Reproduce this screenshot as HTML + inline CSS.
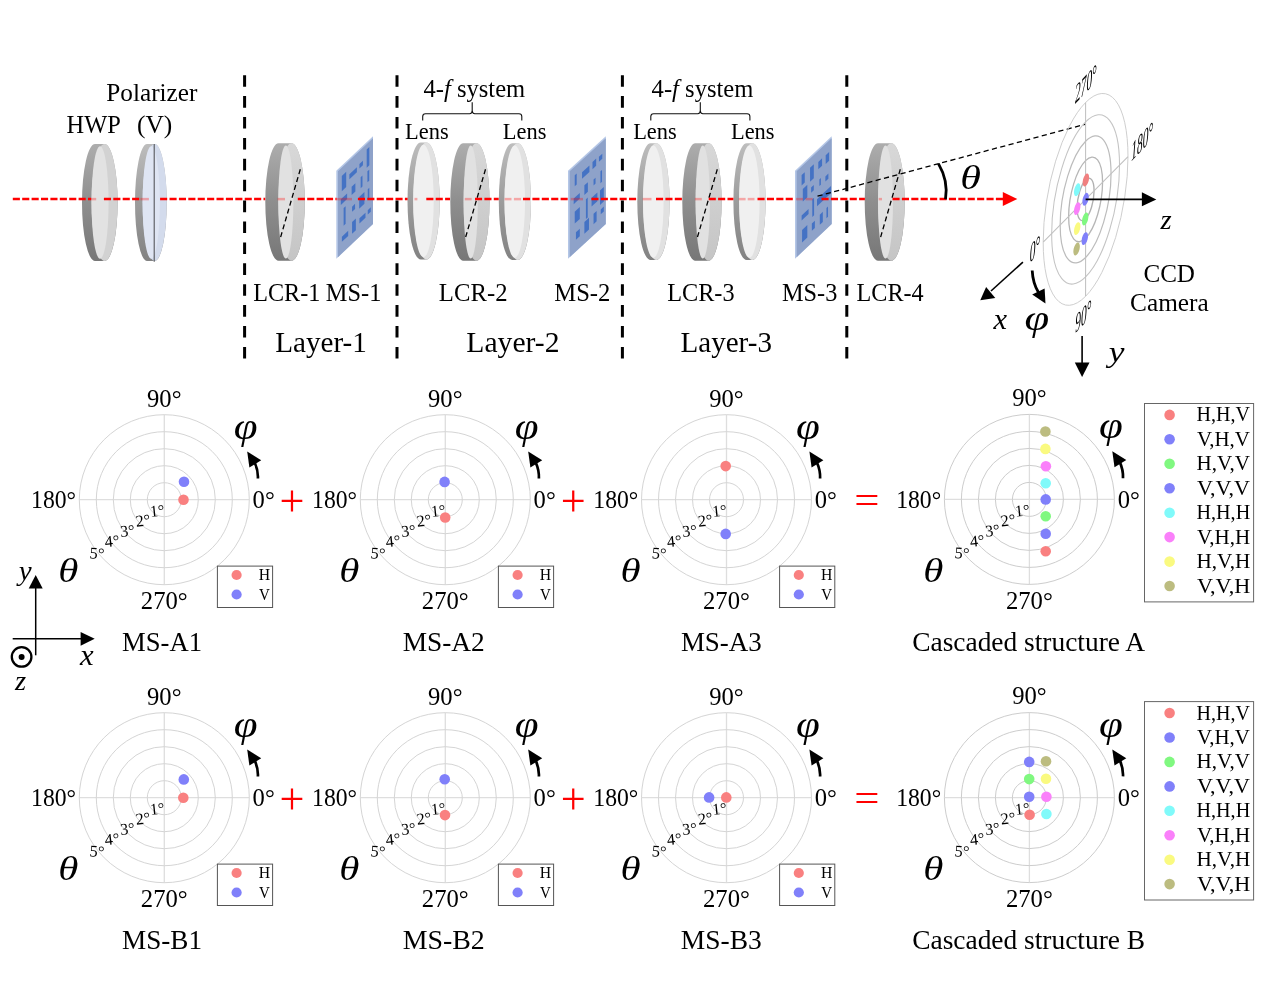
<!DOCTYPE html>
<html lang="en"><head><meta charset="utf-8"><title>Cascaded metasurface figure</title>
<style>html,body{margin:0;padding:0;background:#fff}svg{display:block}</style></head>
<body>
<svg width="1268" height="986" viewBox="0 0 1268 986" font-family='"Liberation Serif", "DejaVu Serif", serif'>
<defs>
<linearGradient id="gRimD" x1="0" y1="0" x2="0" y2="1"><stop offset="0" stop-color="#adadad"/><stop offset="0.5" stop-color="#8e8e8e"/><stop offset="1" stop-color="#777"/></linearGradient>
<linearGradient id="gRimL" x1="0" y1="0" x2="0" y2="1"><stop offset="0" stop-color="#bdbdbd"/><stop offset="0.5" stop-color="#9c9c9c"/><stop offset="1" stop-color="#828282"/></linearGradient>
<linearGradient id="gFace" x1="0" y1="0" x2="0" y2="1"><stop offset="0" stop-color="#d8d8d8"/><stop offset="1" stop-color="#c5c5c5"/></linearGradient>
</defs>
<rect width="1268" height="986" fill="#fff"/>
<path d="M95.05,144.00 L104.55,144.00 A13.05,58.50 0 0 1 104.55,261.00 L95.05,261.00 A13.05,58.50 0 0 1 95.05,144.00Z" fill="url(#gRimD)"/>
<ellipse cx="104.55" cy="202.50" rx="13.05" ry="58.50" fill="#d2d2d2"/>
<ellipse cx="100.04" cy="202.50" rx="8.54" ry="56.30" fill="#e2e2e2"/>
<path d="M147.05,144.00 L154.65,144.00 A12.05,58.50 0 0 1 154.65,261.00 L147.05,261.00 A12.05,58.50 0 0 1 147.05,144.00Z" fill="url(#gRimL)"/>
<ellipse cx="154.65" cy="202.50" rx="12.05" ry="58.50" fill="#d3dbec"/>
<ellipse cx="151.23" cy="202.50" rx="8.63" ry="56.30" fill="#dfe5f3"/>
<path d="M154.2,144 V261.8" stroke="#222" stroke-width="0.8"/>
<path d="M278.55,143.20 L291.55,143.20 A13.25,58.80 0 0 1 291.55,260.80 L278.55,260.80 A13.25,58.80 0 0 1 278.55,143.20Z" fill="url(#gRimD)"/>
<ellipse cx="291.55" cy="202.00" rx="13.25" ry="58.80" fill="url(#gFace)"/>
<ellipse cx="285.83" cy="202.00" rx="7.53" ry="56.60" fill="#e1e1e1"/>
<g transform="matrix(0.3670,-0.3460,0,0.8790,336.30,170.80)">
<rect x="0" y="0" width="100" height="100" fill="#b4c6e6"/>
<rect x="4.5" y="2.4" width="95.5" height="97.6" fill="#8ea2c9"/>
<rect x="15.0" y="11.7" width="12.0" height="17.5" fill="#4472c4"/>
<rect x="35.7" y="18.0" width="20.3" height="5.6" fill="#4472c4"/>
<rect x="63.0" y="17.2" width="9.5" height="5.0" fill="#4472c4"/>
<rect x="82.8" y="8.3" width="7.2" height="20.8" fill="#4472c4"/>
<rect x="66.4" y="33.5" width="4.9" height="12.5" fill="#4472c4"/>
<rect x="84.8" y="34.0" width="4.9" height="12.5" fill="#4472c4"/>
<rect x="41.8" y="34.7" width="10.2" height="9.2" fill="#4472c4"/>
<rect x="12.3" y="37.3" width="17.2" height="6.4" fill="#4472c4"/>
<rect x="62.3" y="54.4" width="14.3" height="13.3" fill="#4472c4"/>
<rect x="85.7" y="54.7" width="4.3" height="11.3" fill="#4472c4"/>
<rect x="20.0" y="50.3" width="5.4" height="20.0" fill="#4472c4"/>
<rect x="43.0" y="57.7" width="8.2" height="5.8" fill="#4472c4"/>
<rect x="85.7" y="78.5" width="8.2" height="5.0" fill="#4472c4"/>
<rect x="63.1" y="78.9" width="16.4" height="5.8" fill="#4472c4"/>
<rect x="43.0" y="75.2" width="10.3" height="13.3" fill="#4472c4"/>
<rect x="15.2" y="81.0" width="17.2" height="5.8" fill="#4472c4"/>
</g>
<path d="M420.75,142.60 L426.45,142.60 A13.25,58.40 0 0 1 426.45,259.40 L420.75,259.40 A13.25,58.40 0 0 1 420.75,142.60Z" fill="url(#gRimL)"/>
<ellipse cx="426.45" cy="201.00" rx="13.25" ry="58.40" fill="#e1e1e1"/>
<ellipse cx="423.46" cy="201.00" rx="10.26" ry="56.20" fill="#f0f0f0"/>
<path d="M463.25,143.20 L476.55,143.20 A12.95,58.80 0 0 1 476.55,260.80 L463.25,260.80 A12.95,58.80 0 0 1 463.25,143.20Z" fill="url(#gRimD)"/>
<ellipse cx="476.55" cy="202.00" rx="12.95" ry="58.80" fill="url(#gFace)"/>
<ellipse cx="470.70" cy="202.00" rx="7.10" ry="56.60" fill="#e1e1e1"/>
<path d="M512.05,143.20 L517.75,143.20 A13.25,58.35 0 0 1 517.75,259.90 L512.05,259.90 A13.25,58.35 0 0 1 512.05,143.20Z" fill="url(#gRimL)"/>
<ellipse cx="517.75" cy="201.55" rx="13.25" ry="58.35" fill="#e1e1e1"/>
<ellipse cx="514.76" cy="201.55" rx="10.26" ry="56.15" fill="#f0f0f0"/>
<g transform="matrix(0.3780,-0.3460,0,0.8790,568.00,170.80)">
<rect x="0" y="0" width="100" height="100" fill="#b4c6e6"/>
<rect x="4.5" y="2.4" width="95.5" height="97.6" fill="#8ea2c9"/>
<rect x="17.8" y="12.0" width="5.2" height="12.5" fill="#4472c4"/>
<rect x="37.2" y="16.2" width="19.5" height="7.5" fill="#4472c4"/>
<rect x="64.8" y="15.4" width="9.7" height="8.3" fill="#4472c4"/>
<rect x="81.8" y="16.2" width="8.9" height="5.8" fill="#4472c4"/>
<rect x="85.8" y="34.4" width="4.2" height="13.4" fill="#4472c4"/>
<rect x="67.6" y="36.5" width="5.3" height="6.7" fill="#4472c4"/>
<rect x="43.3" y="33.6" width="9.3" height="10.9" fill="#4472c4"/>
<rect x="15.0" y="37.5" width="16.2" height="6.4" fill="#4472c4"/>
<rect x="84.6" y="55.6" width="10.1" height="16.7" fill="#4472c4"/>
<rect x="62.3" y="55.2" width="15.4" height="10.0" fill="#4472c4"/>
<rect x="47.4" y="51.0" width="4.8" height="22.6" fill="#4472c4"/>
<rect x="17.8" y="53.6" width="13.4" height="13.4" fill="#4472c4"/>
<rect x="86.6" y="78.0" width="8.1" height="5.6" fill="#4472c4"/>
<rect x="67.6" y="75.6" width="8.1" height="11.7" fill="#4472c4"/>
<rect x="43.3" y="75.3" width="12.2" height="13.3" fill="#4472c4"/>
<rect x="21.0" y="78.2" width="10.2" height="8.4" fill="#4472c4"/>
</g>
<path d="M650.60,143.20 L656.30,143.20 A13.30,58.40 0 0 1 656.30,260.00 L650.60,260.00 A13.30,58.40 0 0 1 650.60,143.20Z" fill="url(#gRimL)"/>
<ellipse cx="656.30" cy="201.60" rx="13.30" ry="58.40" fill="#e1e1e1"/>
<ellipse cx="653.31" cy="201.60" rx="10.31" ry="56.20" fill="#f0f0f0"/>
<path d="M695.30,143.20 L708.60,143.20 A13.00,58.80 0 0 1 708.60,260.80 L695.30,260.80 A13.00,58.80 0 0 1 695.30,143.20Z" fill="url(#gRimD)"/>
<ellipse cx="708.60" cy="202.00" rx="13.00" ry="58.80" fill="url(#gFace)"/>
<ellipse cx="702.75" cy="202.00" rx="7.15" ry="56.60" fill="#e1e1e1"/>
<path d="M746.65,143.20 L752.35,143.20 A13.25,58.40 0 0 1 752.35,260.00 L746.65,260.00 A13.25,58.40 0 0 1 746.65,143.20Z" fill="url(#gRimL)"/>
<ellipse cx="752.35" cy="201.60" rx="13.25" ry="58.40" fill="#e1e1e1"/>
<ellipse cx="749.36" cy="201.60" rx="10.26" ry="56.20" fill="#f0f0f0"/>
<g transform="matrix(0.3670,-0.3460,0,0.8790,795.00,170.80)">
<rect x="0" y="0" width="100" height="100" fill="#b4c6e6"/>
<rect x="4.5" y="2.4" width="95.5" height="97.6" fill="#8ea2c9"/>
<rect x="18.0" y="12.0" width="8.6" height="11.7" fill="#4472c4"/>
<rect x="41.0" y="12.7" width="10.2" height="15.8" fill="#4472c4"/>
<rect x="63.5" y="14.9" width="10.3" height="8.3" fill="#4472c4"/>
<rect x="83.6" y="15.2" width="9.4" height="10.0" fill="#4472c4"/>
<rect x="82.8" y="39.0" width="8.2" height="5.9" fill="#4472c4"/>
<rect x="66.4" y="36.0" width="4.1" height="7.5" fill="#4472c4"/>
<rect x="43.9" y="36.4" width="7.3" height="5.8" fill="#4472c4"/>
<rect x="21.3" y="29.2" width="12.3" height="14.1" fill="#4472c4"/>
<rect x="60.0" y="56.0" width="38.0" height="8.0" fill="#4472c4"/>
<rect x="47.1" y="51.0" width="4.9" height="20.0" fill="#4472c4"/>
<rect x="18.0" y="57.9" width="18.9" height="5.8" fill="#4472c4"/>
<rect x="85.7" y="76.0" width="4.3" height="11.7" fill="#4472c4"/>
<rect x="67.6" y="76.5" width="8.2" height="11.5" fill="#4472c4"/>
<rect x="45.9" y="78.0" width="8.2" height="8.3" fill="#4472c4"/>
<rect x="19.3" y="75.0" width="14.3" height="14.2" fill="#4472c4"/>
</g>
<path d="M878.05,143.20 L891.35,143.20 A13.35,58.80 0 0 1 891.35,260.80 L878.05,260.80 A13.35,58.80 0 0 1 878.05,143.20Z" fill="url(#gRimD)"/>
<ellipse cx="891.35" cy="202.00" rx="13.35" ry="58.80" fill="url(#gFace)"/>
<ellipse cx="885.50" cy="202.00" rx="7.50" ry="56.60" fill="#e1e1e1"/>
<path d="M300.3,169.3 L280.2,238.6" stroke="#000" stroke-width="1.3" stroke-dasharray="5 3.2" fill="none"/>
<path d="M485.5,169.3 L465.2,238.6" stroke="#000" stroke-width="1.3" stroke-dasharray="5 3.2" fill="none"/>
<path d="M717.3,169.3 L697.0,238.6" stroke="#000" stroke-width="1.3" stroke-dasharray="5 3.2" fill="none"/>
<path d="M900.3,169.3 L880.2,238.6" stroke="#000" stroke-width="1.3" stroke-dasharray="5 3.2" fill="none"/>
<path d="M12.8,199.1H91.1" stroke="#f00" stroke-width="2.5" stroke-dasharray="7.1 2.3" fill="none"/>
<path d="M91.1,199.1H96.2" stroke="#f00" stroke-opacity="0.3" stroke-width="2.5" fill="none"/>
<path d="M103.9,199.1H140.4" stroke="#f00" stroke-width="2.5" stroke-dasharray="7.1 2.3" fill="none"/>
<path d="M140.4,199.1H148.9" stroke="#f00" stroke-opacity="0.3" stroke-width="2.5" fill="none"/>
<path d="M160.1,199.1H265.2" stroke="#f00" stroke-width="2.5" stroke-dasharray="7.1 2.3" fill="none"/>
<path d="M277.5,199.1H285.0" stroke="#f00" stroke-opacity="0.3" stroke-width="2.5" fill="none"/>
<path d="M297.8,199.1H336.6" stroke="#f00" stroke-width="2.5" stroke-dasharray="7.1 2.3" fill="none"/>
<path d="M336.6,199.1H352.0" stroke="#f00" stroke-opacity="0.3" stroke-width="2.5" fill="none"/>
<path d="M357.9,199.1H407.6" stroke="#f00" stroke-width="2.5" stroke-dasharray="7.1 2.3" fill="none"/>
<path d="M414.5,199.1H417.4" stroke="#f00" stroke-opacity="0.3" stroke-width="2.5" fill="none"/>
<path d="M426.3,199.1H450.0" stroke="#f00" stroke-width="2.5" stroke-dasharray="7.1 2.3" fill="none"/>
<path d="M464.8,199.1H471.7" stroke="#f00" stroke-opacity="0.3" stroke-width="2.5" fill="none"/>
<path d="M475.0,199.1H498.7" stroke="#f00" stroke-width="2.5" stroke-dasharray="7.1 2.3" fill="none"/>
<path d="M504.6,199.1H511.5" stroke="#f00" stroke-opacity="0.3" stroke-width="2.5" fill="none"/>
<path d="M513.9,199.1H521.0" stroke="#f00" stroke-opacity="0.3" stroke-width="2.5" fill="none"/>
<path d="M523.0,199.1H568.1" stroke="#f00" stroke-width="2.5" stroke-dasharray="7.1 2.3" fill="none"/>
<path d="M570.7,199.1H583.0" stroke="#f00" stroke-opacity="0.3" stroke-width="2.5" fill="none"/>
<path d="M591.4,199.1H637.1" stroke="#f00" stroke-width="2.5" stroke-dasharray="7.1 2.3" fill="none"/>
<path d="M642.7,199.1H651.5" stroke="#f00" stroke-opacity="0.3" stroke-width="2.5" fill="none"/>
<path d="M656.0,199.1H682.1" stroke="#f00" stroke-width="2.5" stroke-dasharray="7.1 2.3" fill="none"/>
<path d="M694.9,199.1H701.8" stroke="#f00" stroke-opacity="0.3" stroke-width="2.5" fill="none"/>
<path d="M708.7,199.1H733.4" stroke="#f00" stroke-width="2.5" stroke-dasharray="7.1 2.3" fill="none"/>
<path d="M738.7,199.1H745.6" stroke="#f00" stroke-opacity="0.3" stroke-width="2.5" fill="none"/>
<path d="M747.7,199.1H754.5" stroke="#f00" stroke-opacity="0.3" stroke-width="2.5" fill="none"/>
<path d="M757.5,199.1H794.9" stroke="#f00" stroke-width="2.5" stroke-dasharray="7.1 2.3" fill="none"/>
<path d="M796.0,199.1H803.0" stroke="#f00" stroke-opacity="0.3" stroke-width="2.5" fill="none"/>
<path d="M805.5,199.1H812.7" stroke="#f00" stroke-opacity="0.3" stroke-width="2.5" fill="none"/>
<path d="M821.5,199.1H864.9" stroke="#f00" stroke-width="2.5" stroke-dasharray="7.1 2.3" fill="none"/>
<path d="M878.7,199.1H882.0" stroke="#f00" stroke-opacity="0.3" stroke-width="2.5" fill="none"/>
<path d="M892.5,199.1H1004.0" stroke="#f00" stroke-width="2.5" stroke-dasharray="7.1 2.3" fill="none"/>
<path d="M1002.8,192.1 L1017.3,199.1 L1002.8,206.1Z" fill="#f00"/>
<path d="M244.6,75.2V360" stroke="#000" stroke-width="3" stroke-dasharray="11.6 9.3" fill="none"/>
<path d="M397.0,75.2V360" stroke="#000" stroke-width="3" stroke-dasharray="11.6 9.3" fill="none"/>
<path d="M622.4,75.2V360" stroke="#000" stroke-width="3" stroke-dasharray="11.6 9.3" fill="none"/>
<path d="M846.8,75.2V360" stroke="#000" stroke-width="3" stroke-dasharray="11.6 9.3" fill="none"/>
<text transform="translate(106.24,101.00) scale(0.9987,1)" font-size="25.30" fill="#000">Polarizer</text>
<text transform="translate(66.57,133.00) scale(0.9633,1)" font-size="25.30" fill="#000">HWP</text>
<text transform="translate(136.95,133.00) scale(1.0064,1)" font-size="25.30" fill="#000">(V)</text>
<text transform="translate(253.18,301.00) scale(0.9551,1)" font-size="25.30" fill="#000">LCR-1</text>
<text transform="translate(325.87,301.00) scale(0.9620,1)" font-size="25.30" fill="#000">MS-1</text>
<text transform="translate(438.86,301.00) scale(0.9768,1)" font-size="25.30" fill="#000">LCR-2</text>
<text transform="translate(554.26,301.00) scale(0.9742,1)" font-size="25.30" fill="#000">MS-2</text>
<text transform="translate(667.17,301.00) scale(0.9597,1)" font-size="25.30" fill="#000">LCR-3</text>
<text transform="translate(781.97,301.00) scale(0.9604,1)" font-size="25.30" fill="#000">MS-3</text>
<text transform="translate(856.47,301.00) scale(0.9567,1)" font-size="25.30" fill="#000">LCR-4</text>
<text transform="translate(275.13,351.90) scale(0.9853,1)" font-size="29.60" fill="#000">Layer-1</text>
<text transform="translate(466.31,351.90) scale(1.0014,1)" font-size="29.60" fill="#000">Layer-2</text>
<text transform="translate(680.53,351.90) scale(0.9822,1)" font-size="29.60" fill="#000">Layer-3</text>
<text transform="translate(423.51,96.75) scale(0.9832,1)" font-size="25.00" fill="#000">4-<tspan font-style="italic">f</tspan> system</text>
<text transform="translate(405.03,138.80) scale(0.9675,1)" font-size="23.20" fill="#000">Lens</text>
<text transform="translate(502.83,138.80) scale(0.9675,1)" font-size="23.20" fill="#000">Lens</text>
<path d="M422.7,120.5 V116.6 Q422.7,113.8 425.5,113.8 H469.6 Q472.2,113.8 472.2,110.6 V102.2 V110.6 Q472.2,113.8 474.8,113.8 H519.0 Q521.8,113.8 521.8,116.6 V120.5" fill="none" stroke="#111" stroke-width="1.1"/>
<text transform="translate(651.61,96.75) scale(0.9832,1)" font-size="25.00" fill="#000">4-<tspan font-style="italic">f</tspan> system</text>
<text transform="translate(633.13,138.80) scale(0.9675,1)" font-size="23.20" fill="#000">Lens</text>
<text transform="translate(730.93,138.80) scale(0.9675,1)" font-size="23.20" fill="#000">Lens</text>
<path d="M650.8,120.5 V116.6 Q650.8,113.8 653.6,113.8 H697.7 Q700.3,113.8 700.3,110.6 V102.2 V110.6 Q700.3,113.8 702.9,113.8 H747.1 Q749.9,113.8 749.9,116.6 V120.5" fill="none" stroke="#111" stroke-width="1.1"/>
<path d="M817.5,196.2 L1085.5,124.2" stroke="#000" stroke-width="1.3" stroke-dasharray="5.2 3.4" fill="none"/>
<path d="M938.4,163.6 Q948.6,181 945.5,199.2" stroke="#000" stroke-width="2.8" fill="none"/>
<text transform="translate(960.29,188.67) scale(1.2679,1)" font-size="33.24" fill="#000" font-style="italic">θ</text>
<g transform="matrix(-8.48,8.56,0.0,19.38,1085.6,199.4)" fill="none">
<circle cx="0" cy="0" r="1" stroke="#b0b0b0" stroke-width="1.35" vector-effect="non-scaling-stroke"/>
<circle cx="0" cy="0" r="2" stroke="#b6b6b6" stroke-width="1.3" vector-effect="non-scaling-stroke"/>
<circle cx="0" cy="0" r="3" stroke="#bcbcbc" stroke-width="1.2" vector-effect="non-scaling-stroke"/>
<circle cx="0" cy="0" r="4" stroke="#c4c4c4" stroke-width="1.05" vector-effect="non-scaling-stroke"/>
<circle cx="0" cy="0" r="5" stroke="#cbcbcb" stroke-width="0.95" vector-effect="non-scaling-stroke"/>
<path d="M-5,0H5M0,-5V5" stroke="#c0c0c0" stroke-width="1.05" vector-effect="non-scaling-stroke"/>
</g>
<ellipse cx="1085.9" cy="180.0" rx="2.9" ry="6.6" transform="rotate(14 1085.9 180.0)" fill="#f08080"/>
<ellipse cx="1077.2" cy="189.7" rx="2.9" ry="6.6" transform="rotate(14 1077.2 189.7)" fill="#80fafa"/>
<ellipse cx="1085.6" cy="199.3" rx="2.9" ry="6.6" transform="rotate(14 1085.6 199.3)" fill="#8080fa"/>
<ellipse cx="1077.2" cy="208.6" rx="2.9" ry="6.6" transform="rotate(14 1077.2 208.6)" fill="#fa80fa"/>
<ellipse cx="1085.2" cy="219.0" rx="2.9" ry="6.6" transform="rotate(14 1085.2 219.0)" fill="#80f880"/>
<ellipse cx="1077.2" cy="228.6" rx="2.9" ry="6.6" transform="rotate(14 1077.2 228.6)" fill="#fafa80"/>
<ellipse cx="1084.8" cy="238.6" rx="2.9" ry="6.6" transform="rotate(14 1084.8 238.6)" fill="#8080fa"/>
<ellipse cx="1076.6" cy="249.0" rx="2.9" ry="6.6" transform="rotate(14 1076.6 249.0)" fill="#bcbc80"/>
<path d="M1085.6,199.4H1143" stroke="#000" stroke-width="1.6"/><path d="M1141.9,192.3 L1156.3,199.4 L1141.9,206.3Z" fill="#000"/>
<path d="M1022.9,262.1 L991,291" stroke="#000" stroke-width="1.6"/><path d="M980.3,300.3 L986.1,287.0 L995.3,297.9Z" fill="#000"/>
<path d="M1082.1,336.1 V363.5" stroke="#000" stroke-width="1.6"/><path d="M1074.8,362.6 H1089.5 L1082.1,376.9Z" fill="#000"/>
<path d="M1032.2,270.5 Q1032.8,283 1038.5,292.5" stroke="#000" stroke-width="2.8" fill="none"/>
<path d="M1045.5,303.4 L1032.2,294.5 L1044.6,288.6Z" fill="#000"/>
<text transform="translate(1160.59,229.40) scale(1.0390,1)" font-size="27.50" fill="#000" font-style="italic">z</text>
<text transform="translate(993.56,329.00) scale(1.0682,1)" font-size="28.50" fill="#000" font-style="italic">x</text>
<text transform="translate(1108.72,362.10) scale(1.2446,1)" font-size="28.50" fill="#000" font-style="italic">y</text>
<text transform="translate(1024.46,329.57) scale(1.2586,1)" font-size="35.47" fill="#000" font-style="italic">φ</text>
<text transform="translate(1143.40,281.50) scale(1.0204,1)" font-size="24.60" fill="#000">CCD</text>
<text transform="translate(1130.09,310.70) scale(1.0286,1)" font-size="24.60" fill="#000">Camera</text>
<text transform="matrix(0.475,-0.5,0,1.1,1075.0,104.0)" font-size="24" font-style="italic">270°</text>
<text transform="matrix(0.475,-0.5,0,1.1,1131.3,161.6)" font-size="24" font-style="italic">180°</text>
<text transform="matrix(0.475,-0.5,0,1.1,1029.8,263.1)" font-size="24" font-style="italic">0°</text>
<text transform="matrix(0.475,-0.5,0,1.1,1075.3,333.2)" font-size="24" font-style="italic">90°</text>
<path d="M35.7,655.3 V588" stroke="#000" stroke-width="1.5"/><path d="M28.7,588.5 H42.7 L35.7,575.0Z" fill="#000"/>
<path d="M12.7,638.8 H81" stroke="#000" stroke-width="1.5"/><path d="M80.6,632.0 V645.8 L94.7,638.8Z" fill="#000"/>
<circle cx="21.6" cy="656.9" r="9.8" fill="#fff" stroke="#000" stroke-width="2.3"/><circle cx="21.6" cy="656.9" r="3.0" fill="#000"/>
<text transform="translate(18.67,579.90) scale(1.0267,1)" font-size="28.30" fill="#000" font-style="italic">y</text>
<text transform="translate(79.96,665.40) scale(1.0611,1)" font-size="28.90" fill="#000" font-style="italic">x</text>
<text transform="translate(14.89,690.20) scale(1.0782,1)" font-size="26.50" fill="#000" font-style="italic">z</text>
<path d="M79.30,499.7H249.30M164.3,414.70V584.70" stroke="#dedede" stroke-width="1.3" fill="none"/>
<circle cx="164.3" cy="499.7" r="17.00" fill="none" stroke="#d5d5d5" stroke-width="1"/>
<circle cx="164.3" cy="499.7" r="34.00" fill="none" stroke="#d5d5d5" stroke-width="1"/>
<circle cx="164.3" cy="499.7" r="51.00" fill="none" stroke="#d5d5d5" stroke-width="1"/>
<circle cx="164.3" cy="499.7" r="68.00" fill="none" stroke="#d5d5d5" stroke-width="1"/>
<circle cx="164.3" cy="499.7" r="85.00" fill="none" stroke="#d5d5d5" stroke-width="1"/>
<text transform="translate(147.06,406.50) scale(1.0091,1)" font-size="24.40" fill="#000">90°</text>
<text transform="translate(140.79,609.20) scale(1.0127,1)" font-size="24.40" fill="#000">270°</text>
<text transform="translate(31.09,508.10) scale(0.9706,1)" font-size="24.40" fill="#000">180°</text>
<text transform="translate(252.62,507.90) scale(1.0069,1)" font-size="24.40" fill="#000">0°</text>
<text transform="translate(149.9,516.5) rotate(-6 6 -5)" font-size="16.3">1°</text>
<text transform="translate(135.7,526.1) rotate(-6 6 -5)" font-size="16.3">2°</text>
<text transform="translate(120.1,536.4) rotate(-6 6 -5)" font-size="16.3">3°</text>
<text transform="translate(104.8,546.7) rotate(-6 6 -5)" font-size="16.3">4°</text>
<text transform="translate(89.6,558.8) rotate(4 6 -5)" font-size="16.3">5°</text>
<text transform="translate(58.25,581.97) scale(1.2479,1)" font-size="32.82" fill="#000" font-style="italic">θ</text>
<text transform="translate(233.81,438.66) scale(1.1650,1)" font-size="36.93" fill="#000" font-style="italic">φ</text>
<path d="M257.9,478.5 C258.2,472.7 257.1,467.7 254.6,462.2" fill="none" stroke="#000" stroke-width="2.7"/>
<path d="M247.2,451.5 L261.2,460.3 L249.4,467.6Z" fill="#000"/>
<circle cx="183.5" cy="499.8" r="5.3" fill="#f98080"/>
<circle cx="184.0" cy="481.7" r="5.3" fill="#8080fa"/>
<rect x="217.4" y="566.1" width="55.2" height="41.4" fill="#fff" stroke="#555" stroke-width="1"/>
<circle cx="236.6" cy="575.0" r="5.1" fill="#f98080"/>
<circle cx="236.6" cy="594.5" r="5.1" fill="#8080fa"/>
<text transform="translate(258.73,580.30) scale(0.9930,1)" font-size="15.90" fill="#000">H</text>
<text transform="translate(259.05,599.60) scale(0.9434,1)" font-size="15.90" fill="#000">V</text>
<path d="M79.30,797.7H249.30M164.3,712.70V882.70" stroke="#dedede" stroke-width="1.3" fill="none"/>
<circle cx="164.3" cy="797.7" r="17.00" fill="none" stroke="#d5d5d5" stroke-width="1"/>
<circle cx="164.3" cy="797.7" r="34.00" fill="none" stroke="#d5d5d5" stroke-width="1"/>
<circle cx="164.3" cy="797.7" r="51.00" fill="none" stroke="#d5d5d5" stroke-width="1"/>
<circle cx="164.3" cy="797.7" r="68.00" fill="none" stroke="#d5d5d5" stroke-width="1"/>
<circle cx="164.3" cy="797.7" r="85.00" fill="none" stroke="#d5d5d5" stroke-width="1"/>
<text transform="translate(147.06,704.50) scale(1.0091,1)" font-size="24.40" fill="#000">90°</text>
<text transform="translate(140.79,907.20) scale(1.0127,1)" font-size="24.40" fill="#000">270°</text>
<text transform="translate(31.09,806.10) scale(0.9706,1)" font-size="24.40" fill="#000">180°</text>
<text transform="translate(252.62,805.90) scale(1.0069,1)" font-size="24.40" fill="#000">0°</text>
<text transform="translate(149.9,814.5) rotate(-6 6 -5)" font-size="16.3">1°</text>
<text transform="translate(135.7,824.1) rotate(-6 6 -5)" font-size="16.3">2°</text>
<text transform="translate(120.1,834.4) rotate(-6 6 -5)" font-size="16.3">3°</text>
<text transform="translate(104.8,844.7) rotate(-6 6 -5)" font-size="16.3">4°</text>
<text transform="translate(89.6,856.8) rotate(4 6 -5)" font-size="16.3">5°</text>
<text transform="translate(58.25,879.97) scale(1.2479,1)" font-size="32.82" fill="#000" font-style="italic">θ</text>
<text transform="translate(233.81,736.66) scale(1.1650,1)" font-size="36.93" fill="#000" font-style="italic">φ</text>
<path d="M257.9,776.5 C258.2,770.7 257.1,765.7 254.6,760.2" fill="none" stroke="#000" stroke-width="2.7"/>
<path d="M247.2,749.5 L261.2,758.3 L249.4,765.6Z" fill="#000"/>
<circle cx="183.3" cy="797.7" r="5.3" fill="#f98080"/>
<circle cx="183.8" cy="779.4" r="5.3" fill="#8080fa"/>
<rect x="217.4" y="864.1" width="55.2" height="41.4" fill="#fff" stroke="#555" stroke-width="1"/>
<circle cx="236.6" cy="873.0" r="5.1" fill="#f98080"/>
<circle cx="236.6" cy="892.5" r="5.1" fill="#8080fa"/>
<text transform="translate(258.73,878.30) scale(0.9930,1)" font-size="15.90" fill="#000">H</text>
<text transform="translate(259.05,897.60) scale(0.9434,1)" font-size="15.90" fill="#000">V</text>
<path d="M360.30,499.7H530.30M445.3,414.70V584.70" stroke="#dedede" stroke-width="1.3" fill="none"/>
<circle cx="445.3" cy="499.7" r="17.00" fill="none" stroke="#d5d5d5" stroke-width="1"/>
<circle cx="445.3" cy="499.7" r="34.00" fill="none" stroke="#d5d5d5" stroke-width="1"/>
<circle cx="445.3" cy="499.7" r="51.00" fill="none" stroke="#d5d5d5" stroke-width="1"/>
<circle cx="445.3" cy="499.7" r="68.00" fill="none" stroke="#d5d5d5" stroke-width="1"/>
<circle cx="445.3" cy="499.7" r="85.00" fill="none" stroke="#d5d5d5" stroke-width="1"/>
<text transform="translate(428.06,406.50) scale(1.0091,1)" font-size="24.40" fill="#000">90°</text>
<text transform="translate(421.79,609.20) scale(1.0127,1)" font-size="24.40" fill="#000">270°</text>
<text transform="translate(312.09,508.10) scale(0.9706,1)" font-size="24.40" fill="#000">180°</text>
<text transform="translate(533.62,507.90) scale(1.0069,1)" font-size="24.40" fill="#000">0°</text>
<text transform="translate(430.9,516.5) rotate(-6 6 -5)" font-size="16.3">1°</text>
<text transform="translate(416.7,526.1) rotate(-6 6 -5)" font-size="16.3">2°</text>
<text transform="translate(401.1,536.4) rotate(-6 6 -5)" font-size="16.3">3°</text>
<text transform="translate(385.8,546.7) rotate(-6 6 -5)" font-size="16.3">4°</text>
<text transform="translate(370.6,558.8) rotate(4 6 -5)" font-size="16.3">5°</text>
<text transform="translate(339.25,581.97) scale(1.2479,1)" font-size="32.82" fill="#000" font-style="italic">θ</text>
<text transform="translate(514.81,438.66) scale(1.1650,1)" font-size="36.93" fill="#000" font-style="italic">φ</text>
<path d="M538.9,478.5 C539.2,472.7 538.1,467.7 535.6,462.2" fill="none" stroke="#000" stroke-width="2.7"/>
<path d="M528.2,451.5 L542.2,460.3 L530.4,467.6Z" fill="#000"/>
<circle cx="444.6" cy="481.9" r="5.3" fill="#8080fa"/>
<circle cx="445.2" cy="517.5" r="5.3" fill="#f98080"/>
<rect x="498.4" y="566.1" width="55.2" height="41.4" fill="#fff" stroke="#555" stroke-width="1"/>
<circle cx="517.6" cy="575.0" r="5.1" fill="#f98080"/>
<circle cx="517.6" cy="594.5" r="5.1" fill="#8080fa"/>
<text transform="translate(539.73,580.30) scale(0.9930,1)" font-size="15.90" fill="#000">H</text>
<text transform="translate(540.05,599.60) scale(0.9434,1)" font-size="15.90" fill="#000">V</text>
<path d="M360.30,797.7H530.30M445.3,712.70V882.70" stroke="#dedede" stroke-width="1.3" fill="none"/>
<circle cx="445.3" cy="797.7" r="17.00" fill="none" stroke="#d5d5d5" stroke-width="1"/>
<circle cx="445.3" cy="797.7" r="34.00" fill="none" stroke="#d5d5d5" stroke-width="1"/>
<circle cx="445.3" cy="797.7" r="51.00" fill="none" stroke="#d5d5d5" stroke-width="1"/>
<circle cx="445.3" cy="797.7" r="68.00" fill="none" stroke="#d5d5d5" stroke-width="1"/>
<circle cx="445.3" cy="797.7" r="85.00" fill="none" stroke="#d5d5d5" stroke-width="1"/>
<text transform="translate(428.06,704.50) scale(1.0091,1)" font-size="24.40" fill="#000">90°</text>
<text transform="translate(421.79,907.20) scale(1.0127,1)" font-size="24.40" fill="#000">270°</text>
<text transform="translate(312.09,806.10) scale(0.9706,1)" font-size="24.40" fill="#000">180°</text>
<text transform="translate(533.62,805.90) scale(1.0069,1)" font-size="24.40" fill="#000">0°</text>
<text transform="translate(430.9,814.5) rotate(-6 6 -5)" font-size="16.3">1°</text>
<text transform="translate(416.7,824.1) rotate(-6 6 -5)" font-size="16.3">2°</text>
<text transform="translate(401.1,834.4) rotate(-6 6 -5)" font-size="16.3">3°</text>
<text transform="translate(385.8,844.7) rotate(-6 6 -5)" font-size="16.3">4°</text>
<text transform="translate(370.6,856.8) rotate(4 6 -5)" font-size="16.3">5°</text>
<text transform="translate(339.25,879.97) scale(1.2479,1)" font-size="32.82" fill="#000" font-style="italic">θ</text>
<text transform="translate(514.81,736.66) scale(1.1650,1)" font-size="36.93" fill="#000" font-style="italic">φ</text>
<path d="M538.9,776.5 C539.2,770.7 538.1,765.7 535.6,760.2" fill="none" stroke="#000" stroke-width="2.7"/>
<path d="M528.2,749.5 L542.2,758.3 L530.4,765.6Z" fill="#000"/>
<circle cx="444.7" cy="779.3" r="5.3" fill="#8080fa"/>
<circle cx="445.0" cy="815.1" r="5.3" fill="#f98080"/>
<rect x="498.4" y="864.1" width="55.2" height="41.4" fill="#fff" stroke="#555" stroke-width="1"/>
<circle cx="517.6" cy="873.0" r="5.1" fill="#f98080"/>
<circle cx="517.6" cy="892.5" r="5.1" fill="#8080fa"/>
<text transform="translate(539.73,878.30) scale(0.9930,1)" font-size="15.90" fill="#000">H</text>
<text transform="translate(540.05,897.60) scale(0.9434,1)" font-size="15.90" fill="#000">V</text>
<path d="M641.50,499.7H811.50M726.5,414.70V584.70" stroke="#dedede" stroke-width="1.3" fill="none"/>
<circle cx="726.5" cy="499.7" r="17.00" fill="none" stroke="#d5d5d5" stroke-width="1"/>
<circle cx="726.5" cy="499.7" r="34.00" fill="none" stroke="#d5d5d5" stroke-width="1"/>
<circle cx="726.5" cy="499.7" r="51.00" fill="none" stroke="#d5d5d5" stroke-width="1"/>
<circle cx="726.5" cy="499.7" r="68.00" fill="none" stroke="#d5d5d5" stroke-width="1"/>
<circle cx="726.5" cy="499.7" r="85.00" fill="none" stroke="#d5d5d5" stroke-width="1"/>
<text transform="translate(709.26,406.50) scale(1.0091,1)" font-size="24.40" fill="#000">90°</text>
<text transform="translate(702.99,609.20) scale(1.0127,1)" font-size="24.40" fill="#000">270°</text>
<text transform="translate(593.29,508.10) scale(0.9706,1)" font-size="24.40" fill="#000">180°</text>
<text transform="translate(814.82,507.90) scale(1.0069,1)" font-size="24.40" fill="#000">0°</text>
<text transform="translate(712.1,516.5) rotate(-6 6 -5)" font-size="16.3">1°</text>
<text transform="translate(697.9,526.1) rotate(-6 6 -5)" font-size="16.3">2°</text>
<text transform="translate(682.3,536.4) rotate(-6 6 -5)" font-size="16.3">3°</text>
<text transform="translate(667.0,546.7) rotate(-6 6 -5)" font-size="16.3">4°</text>
<text transform="translate(651.8,558.8) rotate(4 6 -5)" font-size="16.3">5°</text>
<text transform="translate(620.45,581.97) scale(1.2479,1)" font-size="32.82" fill="#000" font-style="italic">θ</text>
<text transform="translate(796.01,438.66) scale(1.1650,1)" font-size="36.93" fill="#000" font-style="italic">φ</text>
<path d="M820.1,478.5 C820.4,472.7 819.3,467.7 816.8,462.2" fill="none" stroke="#000" stroke-width="2.7"/>
<path d="M809.4,451.5 L823.4,460.3 L811.6,467.6Z" fill="#000"/>
<circle cx="725.7" cy="466.1" r="5.3" fill="#f98080"/>
<circle cx="725.7" cy="533.9" r="5.3" fill="#8080fa"/>
<rect x="779.6" y="566.1" width="55.2" height="41.4" fill="#fff" stroke="#555" stroke-width="1"/>
<circle cx="798.8" cy="575.0" r="5.1" fill="#f98080"/>
<circle cx="798.8" cy="594.5" r="5.1" fill="#8080fa"/>
<text transform="translate(820.93,580.30) scale(0.9930,1)" font-size="15.90" fill="#000">H</text>
<text transform="translate(821.25,599.60) scale(0.9434,1)" font-size="15.90" fill="#000">V</text>
<path d="M641.50,797.7H811.50M726.5,712.70V882.70" stroke="#dedede" stroke-width="1.3" fill="none"/>
<circle cx="726.5" cy="797.7" r="17.00" fill="none" stroke="#d5d5d5" stroke-width="1"/>
<circle cx="726.5" cy="797.7" r="34.00" fill="none" stroke="#d5d5d5" stroke-width="1"/>
<circle cx="726.5" cy="797.7" r="51.00" fill="none" stroke="#d5d5d5" stroke-width="1"/>
<circle cx="726.5" cy="797.7" r="68.00" fill="none" stroke="#d5d5d5" stroke-width="1"/>
<circle cx="726.5" cy="797.7" r="85.00" fill="none" stroke="#d5d5d5" stroke-width="1"/>
<text transform="translate(709.26,704.50) scale(1.0091,1)" font-size="24.40" fill="#000">90°</text>
<text transform="translate(702.99,907.20) scale(1.0127,1)" font-size="24.40" fill="#000">270°</text>
<text transform="translate(593.29,806.10) scale(0.9706,1)" font-size="24.40" fill="#000">180°</text>
<text transform="translate(814.82,805.90) scale(1.0069,1)" font-size="24.40" fill="#000">0°</text>
<text transform="translate(712.1,814.5) rotate(-6 6 -5)" font-size="16.3">1°</text>
<text transform="translate(697.9,824.1) rotate(-6 6 -5)" font-size="16.3">2°</text>
<text transform="translate(682.3,834.4) rotate(-6 6 -5)" font-size="16.3">3°</text>
<text transform="translate(667.0,844.7) rotate(-6 6 -5)" font-size="16.3">4°</text>
<text transform="translate(651.8,856.8) rotate(4 6 -5)" font-size="16.3">5°</text>
<text transform="translate(620.45,879.97) scale(1.2479,1)" font-size="32.82" fill="#000" font-style="italic">θ</text>
<text transform="translate(796.01,736.66) scale(1.1650,1)" font-size="36.93" fill="#000" font-style="italic">φ</text>
<path d="M820.1,776.5 C820.4,770.7 819.3,765.7 816.8,760.2" fill="none" stroke="#000" stroke-width="2.7"/>
<path d="M809.4,749.5 L823.4,758.3 L811.6,765.6Z" fill="#000"/>
<circle cx="709.1" cy="797.4" r="5.3" fill="#8080fa"/>
<circle cx="726.3" cy="797.4" r="5.3" fill="#f98080"/>
<rect x="779.6" y="864.1" width="55.2" height="41.4" fill="#fff" stroke="#555" stroke-width="1"/>
<circle cx="798.8" cy="873.0" r="5.1" fill="#f98080"/>
<circle cx="798.8" cy="892.5" r="5.1" fill="#8080fa"/>
<text transform="translate(820.93,878.30) scale(0.9930,1)" font-size="15.90" fill="#000">H</text>
<text transform="translate(821.25,897.60) scale(0.9434,1)" font-size="15.90" fill="#000">V</text>
<path d="M944.40,499.4H1114.40M1029.4,414.40V584.40" stroke="#dedede" stroke-width="1.3" fill="none"/>
<circle cx="1029.4" cy="499.4" r="17.00" fill="none" stroke="#cdcdcd" stroke-width="1"/>
<circle cx="1029.4" cy="499.4" r="34.00" fill="none" stroke="#cdcdcd" stroke-width="1"/>
<circle cx="1029.4" cy="499.4" r="51.00" fill="none" stroke="#cdcdcd" stroke-width="1"/>
<circle cx="1029.4" cy="499.4" r="68.00" fill="none" stroke="#cdcdcd" stroke-width="1"/>
<circle cx="1029.4" cy="499.4" r="85.00" fill="none" stroke="#cdcdcd" stroke-width="1"/>
<text transform="translate(1012.16,406.20) scale(1.0091,1)" font-size="24.40" fill="#000">90°</text>
<text transform="translate(1005.89,608.90) scale(1.0127,1)" font-size="24.40" fill="#000">270°</text>
<text transform="translate(896.19,507.80) scale(0.9706,1)" font-size="24.40" fill="#000">180°</text>
<text transform="translate(1117.72,507.60) scale(1.0069,1)" font-size="24.40" fill="#000">0°</text>
<text transform="translate(1015.0,516.2) rotate(-6 6 -5)" font-size="16.3">1°</text>
<text transform="translate(1000.8,525.8) rotate(-6 6 -5)" font-size="16.3">2°</text>
<text transform="translate(985.2,536.1) rotate(-6 6 -5)" font-size="16.3">3°</text>
<text transform="translate(969.9,546.4) rotate(-6 6 -5)" font-size="16.3">4°</text>
<text transform="translate(954.7,558.5) rotate(4 6 -5)" font-size="16.3">5°</text>
<text transform="translate(923.35,581.67) scale(1.2479,1)" font-size="32.82" fill="#000" font-style="italic">θ</text>
<text transform="translate(1098.91,438.36) scale(1.1650,1)" font-size="36.93" fill="#000" font-style="italic">φ</text>
<path d="M1123.0,478.2 C1123.3,472.4 1122.2,467.4 1119.7,461.9" fill="none" stroke="#000" stroke-width="2.7"/>
<path d="M1112.3,451.2 L1126.3,460.0 L1114.5,467.3Z" fill="#000"/>
<circle cx="1045.4" cy="431.5" r="5.3" fill="#bcbc80"/>
<circle cx="1045.4" cy="448.9" r="5.3" fill="#fafa80"/>
<circle cx="1045.9" cy="466.2" r="5.3" fill="#fa80fa"/>
<circle cx="1045.7" cy="483.2" r="5.3" fill="#80fafa"/>
<circle cx="1045.7" cy="499.4" r="5.3" fill="#8080fa"/>
<circle cx="1045.7" cy="516.2" r="5.3" fill="#80f880"/>
<circle cx="1045.7" cy="533.8" r="5.3" fill="#8080fa"/>
<circle cx="1045.7" cy="551.2" r="5.3" fill="#f98080"/>
<path d="M944.40,797.6H1114.40M1029.4,712.60V882.60" stroke="#dedede" stroke-width="1.3" fill="none"/>
<circle cx="1029.4" cy="797.6" r="17.00" fill="none" stroke="#cdcdcd" stroke-width="1"/>
<circle cx="1029.4" cy="797.6" r="34.00" fill="none" stroke="#cdcdcd" stroke-width="1"/>
<circle cx="1029.4" cy="797.6" r="51.00" fill="none" stroke="#cdcdcd" stroke-width="1"/>
<circle cx="1029.4" cy="797.6" r="68.00" fill="none" stroke="#cdcdcd" stroke-width="1"/>
<circle cx="1029.4" cy="797.6" r="85.00" fill="none" stroke="#cdcdcd" stroke-width="1"/>
<text transform="translate(1012.16,704.40) scale(1.0091,1)" font-size="24.40" fill="#000">90°</text>
<text transform="translate(1005.89,907.10) scale(1.0127,1)" font-size="24.40" fill="#000">270°</text>
<text transform="translate(896.19,806.00) scale(0.9706,1)" font-size="24.40" fill="#000">180°</text>
<text transform="translate(1117.72,805.80) scale(1.0069,1)" font-size="24.40" fill="#000">0°</text>
<text transform="translate(1015.0,814.4) rotate(-6 6 -5)" font-size="16.3">1°</text>
<text transform="translate(1000.8,824.0) rotate(-6 6 -5)" font-size="16.3">2°</text>
<text transform="translate(985.2,834.3) rotate(-6 6 -5)" font-size="16.3">3°</text>
<text transform="translate(969.9,844.6) rotate(-6 6 -5)" font-size="16.3">4°</text>
<text transform="translate(954.7,856.7) rotate(4 6 -5)" font-size="16.3">5°</text>
<text transform="translate(923.35,879.87) scale(1.2479,1)" font-size="32.82" fill="#000" font-style="italic">θ</text>
<text transform="translate(1098.91,736.56) scale(1.1650,1)" font-size="36.93" fill="#000" font-style="italic">φ</text>
<path d="M1123.0,776.4 C1123.3,770.6 1122.2,765.6 1119.7,760.1" fill="none" stroke="#000" stroke-width="2.7"/>
<path d="M1112.3,749.4 L1126.3,758.2 L1114.5,765.5Z" fill="#000"/>
<circle cx="1029.2" cy="761.9" r="5.3" fill="#8080fa"/>
<circle cx="1046.0" cy="761.3" r="5.3" fill="#bcbc80"/>
<circle cx="1029.2" cy="779.1" r="5.3" fill="#80f880"/>
<circle cx="1046.0" cy="778.7" r="5.3" fill="#fafa80"/>
<circle cx="1029.2" cy="796.8" r="5.3" fill="#8080fa"/>
<circle cx="1046.4" cy="796.8" r="5.3" fill="#fa80fa"/>
<circle cx="1029.6" cy="814.7" r="5.3" fill="#f98080"/>
<circle cx="1046.4" cy="814.0" r="5.3" fill="#80fafa"/>
<rect x="1144.5" y="403.5" width="109.1" height="198.4" fill="#fff" stroke="#666" stroke-width="1"/>
<circle cx="1169.6" cy="414.9" r="5.3" fill="#f98080"/>
<text transform="translate(1196.50,421.40) scale(1.0019,1)" font-size="20.00" fill="#000">H,H,V</text>
<circle cx="1169.6" cy="439.3" r="5.3" fill="#8080fa"/>
<text transform="translate(1196.89,445.85) scale(1.0457,1)" font-size="20.00" fill="#000">V,H,V</text>
<circle cx="1169.6" cy="463.8" r="5.3" fill="#80f880"/>
<text transform="translate(1196.47,470.30) scale(1.0541,1)" font-size="20.00" fill="#000">H,V,V</text>
<circle cx="1169.6" cy="488.2" r="5.3" fill="#8080fa"/>
<text transform="translate(1196.88,494.75) scale(1.1027,1)" font-size="20.00" fill="#000">V,V,V</text>
<circle cx="1169.6" cy="512.7" r="5.3" fill="#80fafa"/>
<text transform="translate(1196.50,519.20) scale(1.0077,1)" font-size="20.00" fill="#000">H,H,H</text>
<circle cx="1169.6" cy="537.1" r="5.3" fill="#fa80fa"/>
<text transform="translate(1196.89,543.65) scale(1.0520,1)" font-size="20.00" fill="#000">V,H,H</text>
<circle cx="1169.6" cy="561.6" r="5.3" fill="#fafa80"/>
<text transform="translate(1196.46,568.10) scale(1.0605,1)" font-size="20.00" fill="#000">H,V,H</text>
<circle cx="1169.6" cy="586.0" r="5.3" fill="#bcbc80"/>
<text transform="translate(1196.88,592.55) scale(1.1097,1)" font-size="20.00" fill="#000">V,V,H</text>
<rect x="1144.5" y="701.6" width="109.1" height="198.4" fill="#fff" stroke="#666" stroke-width="1"/>
<circle cx="1169.6" cy="713.0" r="5.3" fill="#f98080"/>
<text transform="translate(1196.50,719.50) scale(1.0019,1)" font-size="20.00" fill="#000">H,H,V</text>
<circle cx="1169.6" cy="737.5" r="5.3" fill="#8080fa"/>
<text transform="translate(1196.89,743.95) scale(1.0457,1)" font-size="20.00" fill="#000">V,H,V</text>
<circle cx="1169.6" cy="761.9" r="5.3" fill="#80f880"/>
<text transform="translate(1196.47,768.40) scale(1.0541,1)" font-size="20.00" fill="#000">H,V,V</text>
<circle cx="1169.6" cy="786.4" r="5.3" fill="#8080fa"/>
<text transform="translate(1196.88,792.85) scale(1.1027,1)" font-size="20.00" fill="#000">V,V,V</text>
<circle cx="1169.6" cy="810.8" r="5.3" fill="#80fafa"/>
<text transform="translate(1196.50,817.30) scale(1.0077,1)" font-size="20.00" fill="#000">H,H,H</text>
<circle cx="1169.6" cy="835.2" r="5.3" fill="#fa80fa"/>
<text transform="translate(1196.89,841.75) scale(1.0520,1)" font-size="20.00" fill="#000">V,H,H</text>
<circle cx="1169.6" cy="859.7" r="5.3" fill="#fafa80"/>
<text transform="translate(1196.46,866.20) scale(1.0605,1)" font-size="20.00" fill="#000">H,V,H</text>
<circle cx="1169.6" cy="884.1" r="5.3" fill="#bcbc80"/>
<text transform="translate(1196.88,890.65) scale(1.1097,1)" font-size="20.00" fill="#000">V,V,H</text>
<text transform="translate(279.48,515.51) scale(0.9775,1)" font-size="45.32" fill="#f00">+</text>
<text transform="translate(560.68,515.51) scale(0.9775,1)" font-size="45.32" fill="#f00">+</text>
<text transform="translate(854.26,513.90) scale(1.1183,1)" font-size="40.00" fill="#f00">=</text>
<text transform="translate(279.48,813.51) scale(0.9775,1)" font-size="45.32" fill="#f00">+</text>
<text transform="translate(560.68,813.51) scale(0.9775,1)" font-size="45.32" fill="#f00">+</text>
<text transform="translate(854.26,811.90) scale(1.1183,1)" font-size="40.00" fill="#f00">=</text>
<text transform="translate(122.00,651.20) scale(0.9950,1)" font-size="26.80" fill="#000">MS-A1</text>
<text transform="translate(121.98,949.00) scale(1.0142,1)" font-size="26.80" fill="#000">MS-B1</text>
<text transform="translate(402.68,651.20) scale(1.0215,1)" font-size="26.80" fill="#000">MS-A2</text>
<text transform="translate(402.66,949.00) scale(1.0411,1)" font-size="26.80" fill="#000">MS-B2</text>
<text transform="translate(680.89,651.20) scale(1.0073,1)" font-size="26.80" fill="#000">MS-A3</text>
<text transform="translate(680.87,949.00) scale(1.0266,1)" font-size="26.80" fill="#000">MS-B3</text>
<text transform="translate(912.20,650.80) scale(1.0270,1)" font-size="26.70" fill="#000">Cascaded structure A</text>
<text transform="translate(912.20,949.00) scale(1.0274,1)" font-size="26.70" fill="#000">Cascaded structure B</text>
</svg>
</body></html>
